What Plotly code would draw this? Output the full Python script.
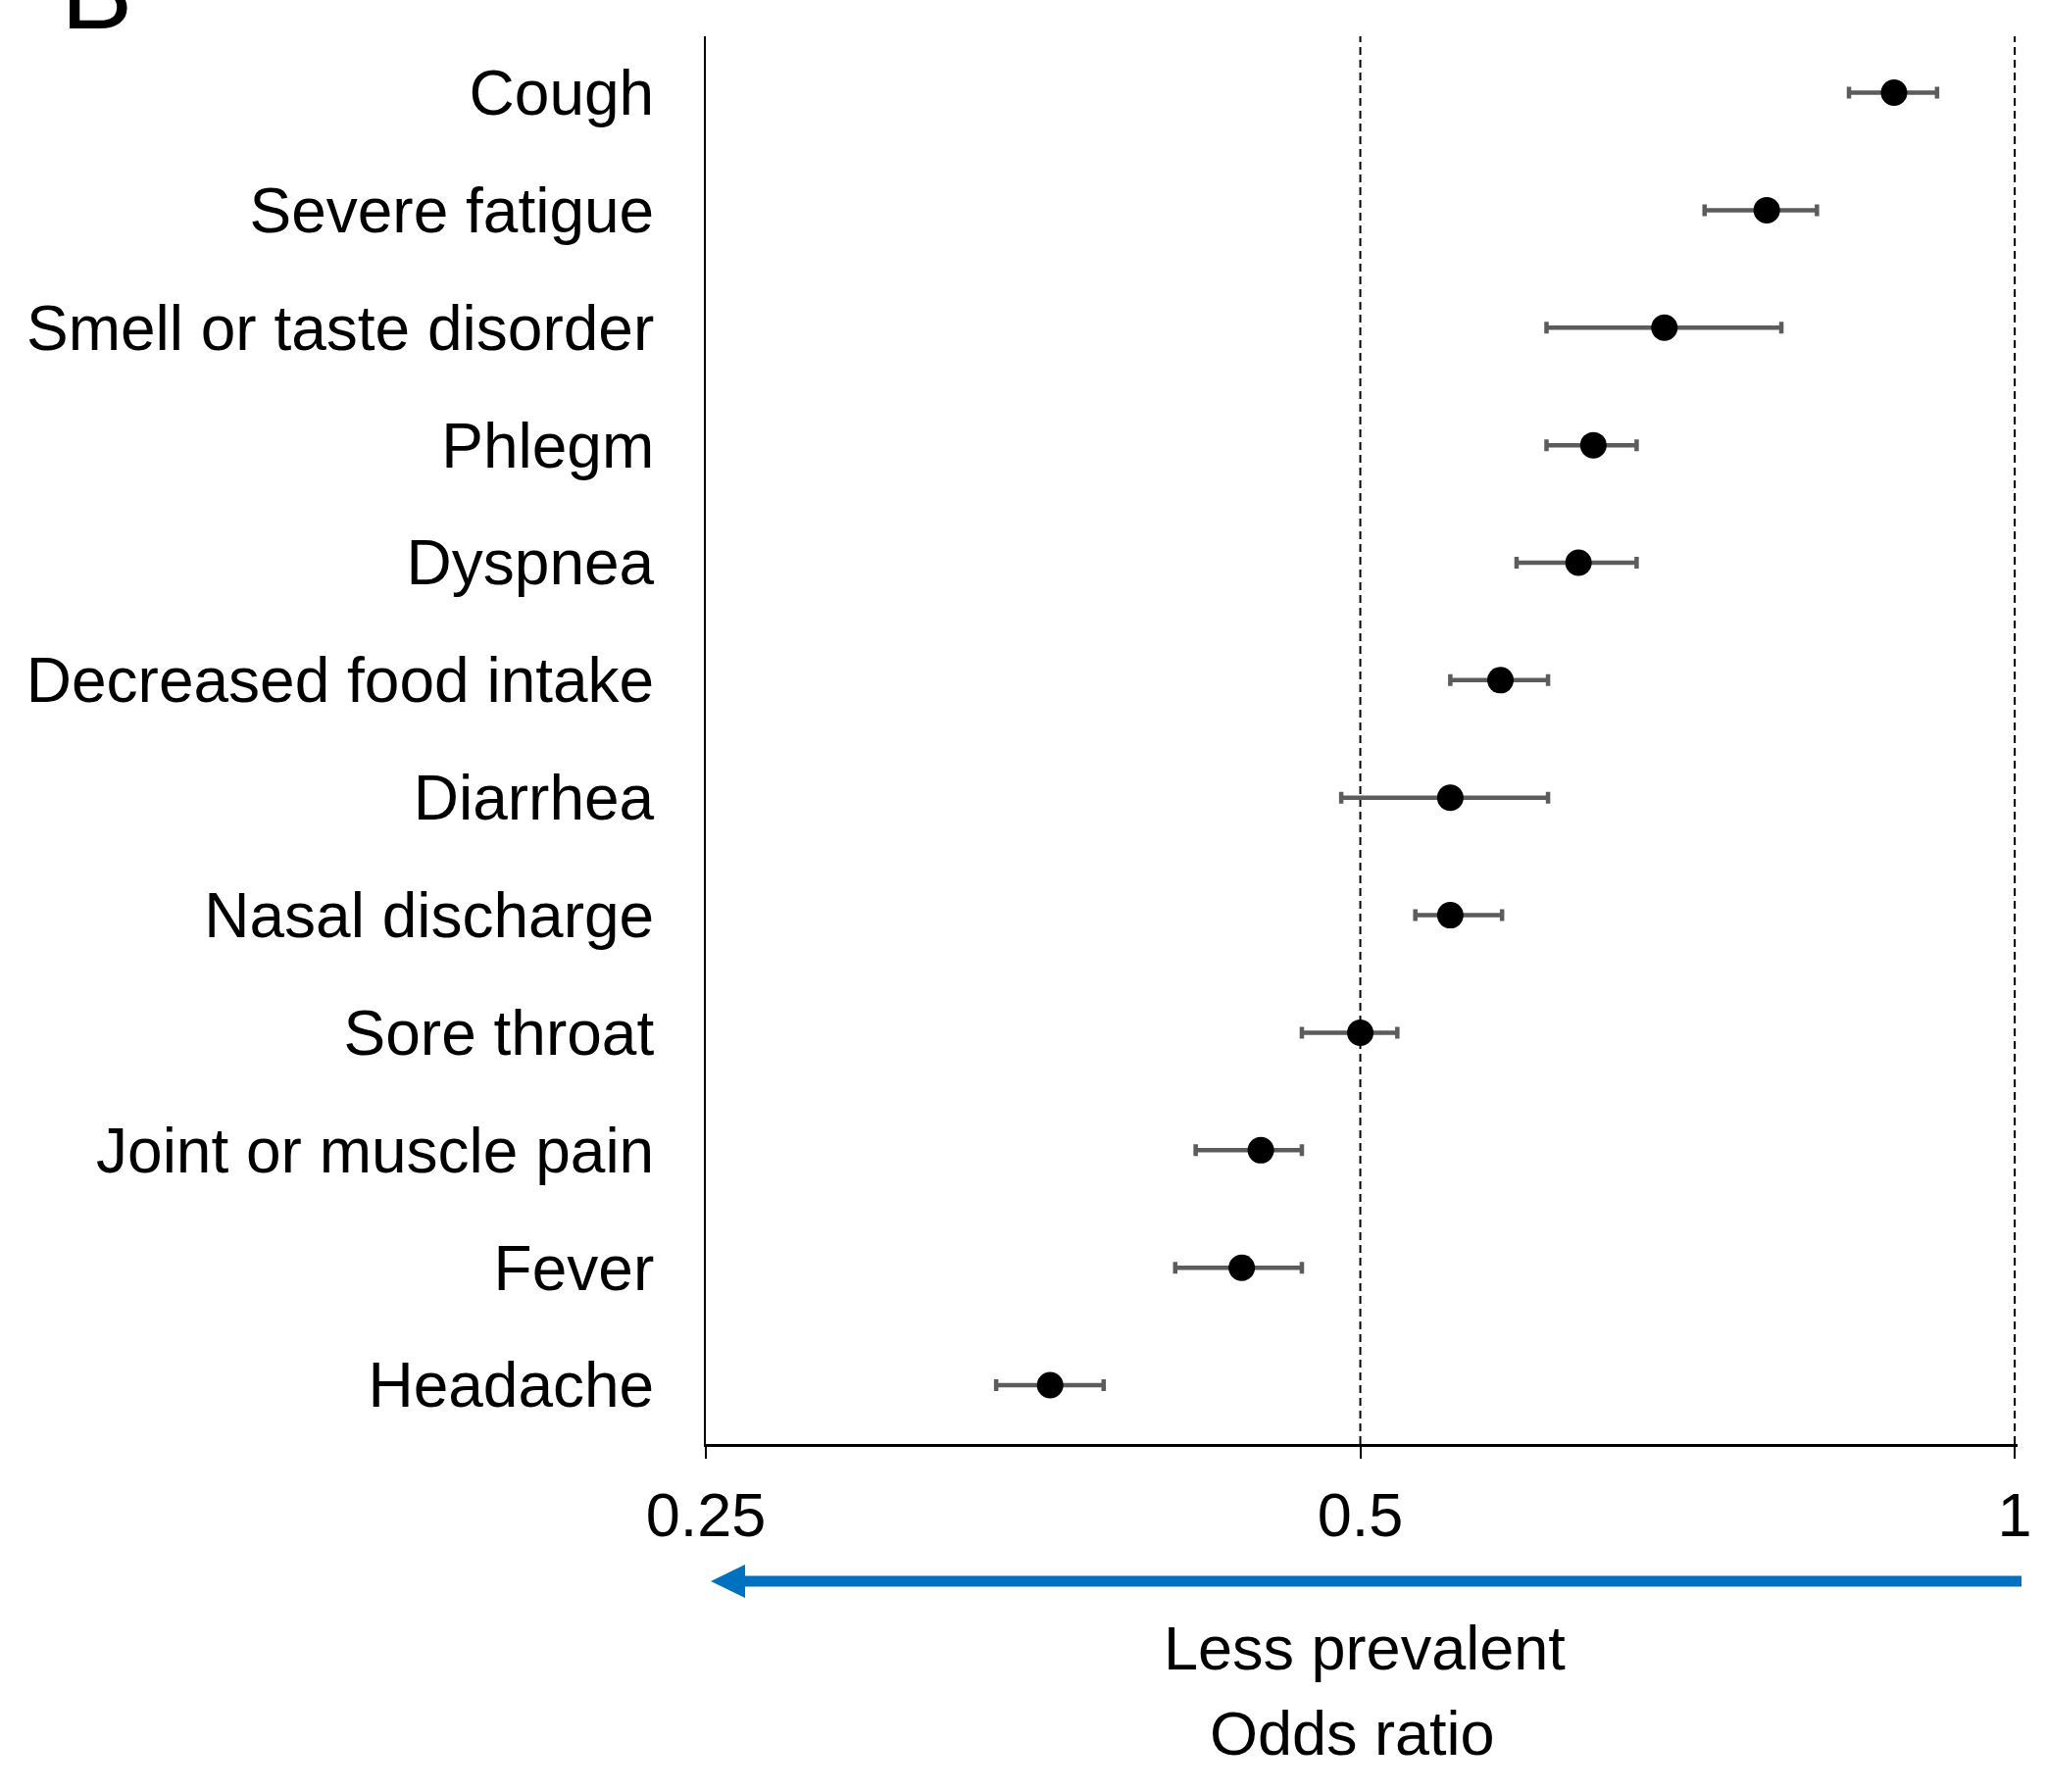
import plotly.graph_objects as go
import math

symptoms = ["Cough", "Severe fatigue", "Smell or taste disorder", "Phlegm", "Dyspnea",
            "Decreased food intake", "Diarrhea", "Nasal discharge", "Sore throat",
            "Joint or muscle pain", "Fever", "Headache"]
odds_ratio = [0.880, 0.769, 0.690, 0.640, 0.630, 0.580, 0.550, 0.550, 0.500, 0.450, 0.441, 0.360]
ci_low = [0.839, 0.720, 0.609, 0.609, 0.590, 0.550, 0.490, 0.530, 0.470, 0.420, 0.411, 0.340]
ci_high = [0.921, 0.811, 0.781, 0.670, 0.670, 0.610, 0.610, 0.581, 0.520, 0.470, 0.470, 0.381]
tick_vals = [0.25, 0.5, 1]
tick_text = ["0.25", "0.5", "1"]
ref_lines = [0.5, 1]

n = len(symptoms)
ypos = [n - 1 - i for i in range(n)]

FONT = "Liberation Sans, Arial, sans-serif"
fig = go.Figure()

for xv in ref_lines:
    fig.add_trace(go.Scatter(x=[xv, xv], y=[-0.5, n - 0.52], mode="lines",
                             line=dict(color="black", width=2, dash="8px,5px"),
                             showlegend=False, hoverinfo="skip"))

fig.add_trace(go.Scatter(
    x=odds_ratio, y=ypos, mode="markers",
    marker=dict(color="black", size=27),
    error_x=dict(type="data", symmetric=False,
                 array=[h - o for h, o in zip(ci_high, odds_ratio)],
                 arrayminus=[o - l for o, l in zip(odds_ratio, ci_low)],
                 color="#5c5c5c", thickness=4.5, width=6),
    showlegend=False))

fig.update_xaxes(type="log", range=[math.log10(0.25), math.log10(1.003)],
                 tickvals=tick_vals, ticktext=tick_text,
                 ticks="outside", ticklen=12, tickwidth=2, tickcolor="black",
                 showline=True, linewidth=3, linecolor="black",
                 showgrid=False, zeroline=False,
                 tickfont=dict(family=FONT, size=63, color="black"),
                 ticklabelstandoff=3)
fig.update_yaxes(range=[-0.5, n - 0.52], tickvals=ypos, ticktext=symptoms,
                 ticks="", showline=True, linewidth=2, linecolor="black",
                 showgrid=False, zeroline=False,
                 tickfont=dict(family=FONT, size=64, color="black"),
                 ticklabelstandoff=38)

H = 1436.0
W = 1338.0
arrow_y = (1473 - 1613) / H
tip_x = 5 / W
base_x = 40 / W
half_h = 17 / H
fig.add_shape(type="line", xref="paper", yref="paper",
              x0=base_x - 2 / W, x1=1.003, y0=arrow_y, y1=arrow_y,
              line=dict(color="#0070C0", width=11))
fig.add_shape(type="path", xref="paper", yref="paper",
              path=f"M {tip_x},{arrow_y} L {base_x},{arrow_y + half_h} L {base_x},{arrow_y - half_h} Z",
              fillcolor="#0070C0", line=dict(color="#0070C0", width=0))

fig.add_annotation(text="Less prevalent", xref="paper", yref="paper",
                   x=(1392 - 720) / W, y=(1473 - 1681) / H, showarrow=False,
                   xanchor="center", yanchor="middle",
                   font=dict(family=FONT, size=63, color="black"))
fig.add_annotation(text="Odds ratio", xref="paper", yref="paper",
                   x=(1379 - 720) / W, y=(1473 - 1768) / H, showarrow=False,
                   xanchor="center", yanchor="middle",
                   font=dict(family=FONT, size=63, color="black"))
fig.add_annotation(text="B", xref="paper", yref="paper",
                   x=(60 - 720) / W, y=(1473 + 10) / H, showarrow=False,
                   xanchor="left", yanchor="middle",
                   font=dict(family=FONT, size=110, color="black"))

fig.update_layout(width=2087, height=1828,
                  margin=dict(l=720, r=29, t=37, b=355),
                  plot_bgcolor="white", paper_bgcolor="white")

fig.write_html("out.html")
